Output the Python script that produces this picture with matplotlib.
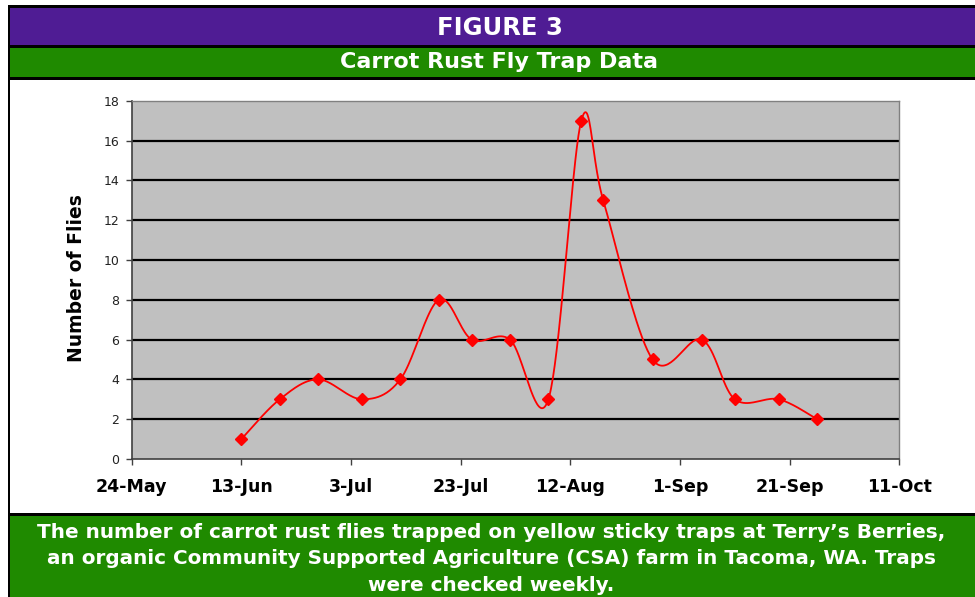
import numpy as np
import matplotlib
matplotlib.use("Agg")
import matplotlib.pyplot as plt
import matplotlib.dates as mdates
from matplotlib.patches import Rectangle
from datetime import datetime

# ---- data ----
year = 2007
trap_dates = ["13-Jun", "20-Jun", "27-Jun", "5-Jul", "12-Jul", "19-Jul", "25-Jul",
              "1-Aug", "8-Aug", "14-Aug", "18-Aug", "27-Aug", "5-Sep", "11-Sep",
              "19-Sep", "26-Sep"]
flies = [1, 3, 4, 3, 4, 8, 6, 6, 3, 17, 13, 5, 6, 3, 3, 2]
x_tick_labels = ["24-May", "13-Jun", "3-Jul", "23-Jul", "12-Aug", "1-Sep", "21-Sep", "11-Oct"]
y_ticks = [0, 2, 4, 6, 8, 10, 12, 14, 16, 18]

header_text = "FIGURE 3"
title_text = "Carrot Rust Fly Trap Data"
caption_lines = [
    "The number of carrot rust flies trapped on yellow sticky traps at Terry\u2019s Berries,",
    "an organic Community Supported Agriculture (CSA) farm in Tacoma, WA. Traps",
    "were checked weekly.",
]
y_label = "Number of Flies"


def to_num(s):
    return mdates.date2num(datetime.strptime(f"{s}-{year}", "%d-%b-%Y"))


xs = np.array([to_num(s) for s in trap_dates])
ys = np.array(flies, dtype=float)
xt = [to_num(s) for s in x_tick_labels]

W, H = 975, 597
fig = plt.figure(figsize=(W / 100, H / 100), dpi=100)
fig.patch.set_facecolor("white")

PURPLE = "#4F1C94"
GREEN = "#1F8A00"


def rect(x0, y0, x1, y1, color):
    fig.patches.append(Rectangle((x0 / W, 1 - y1 / H), (x1 - x0) / W, (y1 - y0) / H,
                                 transform=fig.transFigure, facecolor=color,
                                 edgecolor="none", zorder=-5))


# frame and bands
rect(8, 5, W, H, "black")
rect(10, 8, W, 44.5, PURPLE)
rect(10, 48, W, 77, GREEN)
rect(10, 80, W, 513, "white")
rect(10, 516, W, H, GREEN)

fig.text(500 / W, 1 - 35 / H, header_text, color="white", fontsize=17.5,
         fontweight="bold", ha="center", va="baseline")
fig.text(499 / W, 1 - 68.5 / H, title_text, color="white", fontsize=16,
         fontweight="bold", ha="center", va="baseline")
for i, line in enumerate(caption_lines):
    fig.text(491 / W, 1 - (537.5 + 26.6 * i) / H, line, color="white", fontsize=14.4,
             fontweight="bold", ha="center", va="baseline")

# axes
L, R, T, B = 131.7, 899.3, 100.7, 459.0
ax = fig.add_axes([L / W, 1 - B / H, (R - L) / W, (B - T) / H])
ax.set_zorder(2)
ax.set_facecolor("#C0C0C0")
ax.set_xlim(xt[0], xt[-1])
ax.set_ylim(0, 18)
ax.set_yticks(y_ticks)
ax.set_yticklabels([str(v) for v in y_ticks])
ax.set_xticks(xt)
ax.set_xticklabels(x_tick_labels)
ax.tick_params(axis="y", direction="out", length=4, width=1, color="#404040",
               labelsize=9, pad=5, labelcolor="#222222")
ax.tick_params(axis="x", direction="out", length=4, width=1, color="#404040",
               labelsize=12.5, pad=10)
for lab in ax.get_xticklabels():
    lab.set_fontweight("bold")
for v in y_ticks[1:-1]:
    ax.axhline(v, color="black", lw=1.6, zorder=1)
for side in ("top", "right"):
    ax.spines[side].set_color("#808080")
    ax.spines[side].set_linewidth(1)
for side in ("left", "bottom"):
    ax.spines[side].set_color("#404040")
    ax.spines[side].set_linewidth(1.2)

fig.text(77 / W, 1 - 278.5 / H, y_label, rotation=90, fontsize=13.5,
         fontweight="bold", ha="center", va="center")

# smoothed line (Catmull-Rom style bezier in display space)
pts = ax.transData.transform(np.column_stack([xs, ys]))
P = np.vstack([pts[0], pts, pts[-1]])
segs = []
t = np.linspace(0, 1, 40)[:, None]
for i in range(1, len(P) - 2):
    p0, p1, p2, p3 = P[i - 1], P[i], P[i + 1], P[i + 2]
    c1 = p1 + (p2 - p0) / 6.0
    c2 = p2 - (p3 - p1) / 6.0
    b = (1 - t) ** 3 * p1 + 3 * (1 - t) ** 2 * t * c1 + 3 * (1 - t) * t ** 2 * c2 + t ** 3 * p2
    segs.append(b)
curve = ax.transData.inverted().transform(np.vstack(segs))
ax.plot(curve[:, 0], curve[:, 1], color="#FF0000", lw=1.3, zorder=3, clip_on=False)
ax.plot(xs, ys, linestyle="none", marker="D", markersize=6.5, color="#FF0000",
        markeredgecolor="#FF0000", zorder=4, clip_on=False)

fig.savefig("out.png", dpi=100)
